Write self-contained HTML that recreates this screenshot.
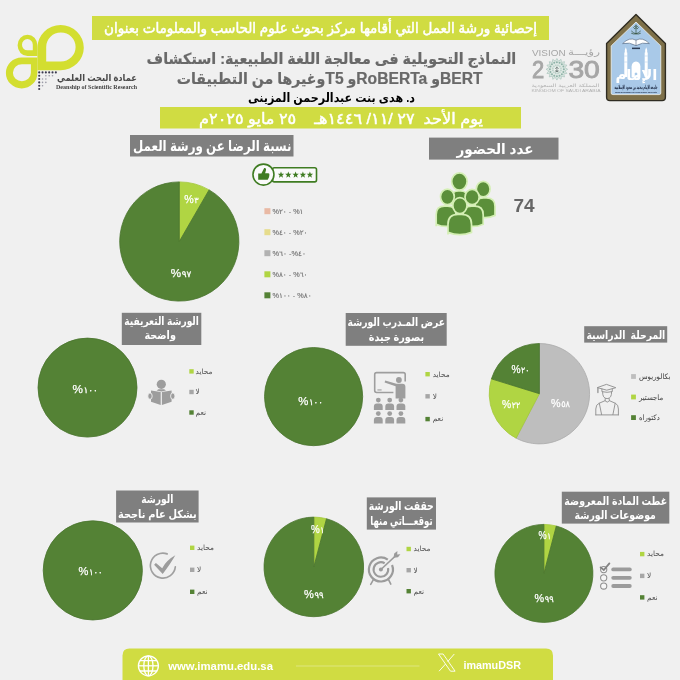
<!DOCTYPE html>
<html lang="ar">
<head>
<meta charset="utf-8">
<title>إحصائية ورشة العمل</title>
<style>
html,body{margin:0;padding:0;background:#f0f0f0;}
body{width:680px;height:680px;overflow:hidden;}
svg{display:block;}
text{white-space:pre;}
</style>
</head>
<body>
<svg width="680" height="680" viewBox="0 0 680 680">
<rect x="0" y="0" width="680" height="680" fill="#f0f0f0"/>
<rect x="92" y="16" width="457" height="24" fill="#d0dc42"/>
<text x="320.5" y="33" font-family="'Liberation Sans','DejaVu Sans',sans-serif" font-size="14.5" font-weight="normal" fill="#fff" text-anchor="middle" textLength="433" lengthAdjust="spacingAndGlyphs" direction="rtl"  stroke="#fff" stroke-width="0.5" stroke-linejoin="round">إحصائية ورشة العمل التي أقامها مركز بحوث علوم الحاسب والمعلومات بعنوان</text>
<text x="331.40000000000003" y="64.2" font-family="'Liberation Sans','DejaVu Sans',sans-serif" font-size="15.2" font-weight="bold" fill="#696969" text-anchor="middle" textLength="369.6" lengthAdjust="spacingAndGlyphs" direction="rtl" stroke="#696969" stroke-width="0.2">النماذج التحويلية فى معالجة اللغة الطبيعية: استكشاف</text>
<text x="329.70000000000005" y="83.6" font-family="'Liberation Sans','DejaVu Sans',sans-serif" font-size="15.2" font-weight="bold" fill="#696969" text-anchor="middle" textLength="305.8" lengthAdjust="spacingAndGlyphs" direction="rtl" stroke="#696969" stroke-width="0.2"><tspan font-size="16.8">BERT</tspan>و <tspan font-size="16.8">RoBERTa</tspan>و <tspan font-size="16.8">T5</tspan>وغيرها من التطبيقات</text>
<text x="331.5" y="102.4" font-family="'Liberation Sans','DejaVu Sans',sans-serif" font-size="12.5" font-weight="bold" fill="#000" text-anchor="middle" textLength="167" lengthAdjust="spacingAndGlyphs" direction="rtl" >د. هدى بنت عبدالرحمن المزينى</text>
<rect x="160" y="107" width="361" height="21.5" fill="#d0dc42"/>
<text x="341.0" y="123.5" font-family="'Liberation Sans','DejaVu Sans',sans-serif" font-size="15.5" font-weight="normal" fill="#fff" text-anchor="middle" textLength="284" lengthAdjust="spacingAndGlyphs" direction="rtl"  stroke="#fff" stroke-width="0.45" stroke-linejoin="round">يوم الأحد  ٢٧ /١١/ ١٤٤٦هـ    ٢٥ مايو ٢٠٢٥م</text>
<rect x="130" y="135" width="163.5" height="21.5" fill="#7f7f7f"/>
<text x="212.25" y="151.3" font-family="'Liberation Sans','DejaVu Sans',sans-serif" font-size="14.5" font-weight="bold" fill="#fff" text-anchor="middle" textLength="158.5" lengthAdjust="spacingAndGlyphs" direction="rtl" >نسبة الرضا عن ورشة العمل</text>
<rect x="429" y="137.6" width="129.5" height="22" fill="#7f7f7f"/>
<text x="495.0" y="153.8" font-family="'Liberation Sans','DejaVu Sans',sans-serif" font-size="14.5" font-weight="bold" fill="#fff" text-anchor="middle" textLength="77.0" lengthAdjust="spacingAndGlyphs" direction="rtl" >عدد الحضور</text>
<path d="M179.30,241.50 L179.30,181.90 A59.60,59.60 0 0 1 209.10,189.88 Z" fill="#b0d543" stroke="#a3c83b" stroke-width="0.8" stroke-linejoin="round"/>
<path d="M179.30,241.50 L209.10,189.88 A59.60,59.60 0 1 1 179.30,181.90 Z" fill="#548235" stroke="#4a752e" stroke-width="0.8" stroke-linejoin="round"/>
<text x="191.40" y="202.9" font-family="'Liberation Sans','DejaVu Sans',sans-serif" fill="#fff" stroke="#fff" stroke-width="0.25" text-anchor="middle" textLength="14.4" lengthAdjust="spacingAndGlyphs" direction="ltr" unicode-bidi="bidi-override"><tspan font-size="11.5">%</tspan><tspan font-size="8.8" dx="0.6" letter-spacing="0.8">٣</tspan></text>
<text x="181.10" y="276.6" font-family="'Liberation Sans','DejaVu Sans',sans-serif" fill="#fff" stroke="#fff" stroke-width="0.25" text-anchor="middle" textLength="20.6" lengthAdjust="spacingAndGlyphs" direction="ltr" unicode-bidi="bidi-override"><tspan font-size="11.5">%</tspan><tspan font-size="8.8" dx="0.6" letter-spacing="0.8">٩٧</tspan></text>
<rect x="264.4" y="208.2" width="6" height="6" fill="#e9b9a4"/>
<text x="288.0" y="213.6" font-family="'Liberation Sans','DejaVu Sans',sans-serif" font-size="7" font-weight="normal" fill="#757575" text-anchor="middle" textLength="31.0" lengthAdjust="spacingAndGlyphs" direction="ltr" unicode-bidi="bidi-override" stroke="#757575" stroke-width="0.15" stroke-linejoin="round">%٢٠ - %١</text>
<rect x="264.4" y="229.2" width="6" height="6" fill="#e6dc8c"/>
<text x="290.0" y="234.6" font-family="'Liberation Sans','DejaVu Sans',sans-serif" font-size="7" font-weight="normal" fill="#757575" text-anchor="middle" textLength="35.0" lengthAdjust="spacingAndGlyphs" direction="ltr" unicode-bidi="bidi-override" stroke="#757575" stroke-width="0.15" stroke-linejoin="round">%٤٠ - %٢٠</text>
<rect x="264.4" y="250.2" width="6" height="6" fill="#b2b2b2"/>
<text x="289.25" y="255.6" font-family="'Liberation Sans','DejaVu Sans',sans-serif" font-size="7" font-weight="normal" fill="#757575" text-anchor="middle" textLength="33.5" lengthAdjust="spacingAndGlyphs" direction="ltr" unicode-bidi="bidi-override" stroke="#757575" stroke-width="0.15" stroke-linejoin="round">%٦٠ -%٤٠</text>
<rect x="264.4" y="271.3" width="6" height="6" fill="#b0d543"/>
<text x="290.0" y="276.7" font-family="'Liberation Sans','DejaVu Sans',sans-serif" font-size="7" font-weight="normal" fill="#757575" text-anchor="middle" textLength="35.0" lengthAdjust="spacingAndGlyphs" direction="ltr" unicode-bidi="bidi-override" stroke="#757575" stroke-width="0.15" stroke-linejoin="round">%٨٠ - %٦٠</text>
<rect x="264.4" y="292.3" width="6" height="6" fill="#548235"/>
<text x="292.05" y="297.7" font-family="'Liberation Sans','DejaVu Sans',sans-serif" font-size="7" font-weight="normal" fill="#757575" text-anchor="middle" textLength="39.1" lengthAdjust="spacingAndGlyphs" direction="ltr" unicode-bidi="bidi-override" stroke="#757575" stroke-width="0.15" stroke-linejoin="round">%١٠٠ - %٨٠</text>
<rect x="272.5" y="167.7" width="44" height="14.2" rx="1.8" fill="#fafafa" stroke="#3f7c22" stroke-width="1.6"/>
<circle cx="263.45" cy="174.6" r="10.5" fill="#fafafa" stroke="#3f7c22" stroke-width="1.6"/>
<polygon points="281.00,171.50 281.85,173.73 284.23,173.85 282.38,175.35 283.00,177.65 281.00,176.35 279.00,177.65 279.62,175.35 277.77,173.85 280.15,173.73" fill="#3f7c22"/>
<polygon points="288.30,171.50 289.15,173.73 291.53,173.85 289.68,175.35 290.30,177.65 288.30,176.35 286.30,177.65 286.92,175.35 285.07,173.85 287.45,173.73" fill="#3f7c22"/>
<polygon points="295.60,171.50 296.45,173.73 298.83,173.85 296.98,175.35 297.60,177.65 295.60,176.35 293.60,177.65 294.22,175.35 292.37,173.85 294.75,173.73" fill="#3f7c22"/>
<polygon points="302.90,171.50 303.75,173.73 306.13,173.85 304.28,175.35 304.90,177.65 302.90,176.35 300.90,177.65 301.52,175.35 299.67,173.85 302.05,173.73" fill="#3f7c22"/>
<polygon points="309.90,171.50 310.75,173.73 313.13,173.85 311.28,175.35 311.90,177.65 309.90,176.35 307.90,177.65 308.52,175.35 306.67,173.85 309.05,173.73" fill="#3f7c22"/>
<path d="M258.2,173.4 H261.4 L264.2,168 C265.8,167.6 266.4,168.8 265.9,170.4 L265.1,173.2 H268.2 C269.5,173.2 269.8,174.4 269.1,175.1 C269.6,175.7 269.4,176.5 268.8,176.9 C269.1,177.5 268.8,178.2 268.2,178.5 C268.3,179.2 267.8,179.8 267,179.8 H258.2 Z" fill="#3f7c22"/>
<path d="M452,205 V197.3 Q452,191 458.3,191 H460.7 Q467,191 467,197.3 V203 Q459.5,207.5 452,203 Z" fill="#5b8f3a" stroke="#d4efb4" stroke-width="1.7"/>
<ellipse cx="459.4" cy="181.5" rx="7.7" ry="8.6" fill="#5b8f3a" stroke="#d4efb4" stroke-width="1.7"/>
<path d="M475,217.4 V206.4 Q475,198 483.4,198 H486.6 Q495,198 495,206.4 V215.4 Q485.0,219.9 475,215.4 Z" fill="#5b8f3a" stroke="#d4efb4" stroke-width="1.7"/>
<ellipse cx="483.2" cy="189.1" rx="6.9" ry="7.7" fill="#5b8f3a" stroke="#d4efb4" stroke-width="1.7"/>
<path d="M436.2,226.2 V214.516 Q436.2,206.2 444.516,206.2 H447.68399999999997 Q456,206.2 456,214.516 V224.2 Q446.1,228.7 436.2,224.2 Z" fill="#5b8f3a" stroke="#d4efb4" stroke-width="1.7"/>
<ellipse cx="447.4" cy="196.8" rx="6.9" ry="7.7" fill="#5b8f3a" stroke="#d4efb4" stroke-width="1.7"/>
<path d="M463,226.2 V214.68399999999997 Q463,206.2 471.484,206.2 H474.716 Q483.2,206.2 483.2,214.68399999999997 V224.2 Q473.1,228.7 463,224.2 Z" fill="#5b8f3a" stroke="#d4efb4" stroke-width="1.7"/>
<ellipse cx="472.1" cy="197" rx="7.1000000000000005" ry="7.7" fill="#5b8f3a" stroke="#d4efb4" stroke-width="1.7"/>
<path d="M448,234.4 V224.27 Q448,214.4 457.87,214.4 H461.63 Q471.5,214.4 471.5,224.27 V232.4 Q459.75,236.9 448,232.4 Z" fill="#5b8f3a" stroke="#d4efb4" stroke-width="1.7"/>
<ellipse cx="459.9" cy="205.6" rx="7.1000000000000005" ry="8.0" fill="#5b8f3a" stroke="#d4efb4" stroke-width="1.7"/>
<text x="524" y="211.8" font-family="'Liberation Sans','DejaVu Sans',sans-serif" font-size="19" font-weight="bold" fill="#666" text-anchor="middle" >74</text>
<circle cx="87.5" cy="387.6" r="49.5" fill="#548235" stroke="#4a752e" stroke-width="0.8"/>
<text x="85.15" y="392.6" font-family="'Liberation Sans','DejaVu Sans',sans-serif" fill="#fff" stroke="#fff" stroke-width="0.25" text-anchor="middle" textLength="25.5" lengthAdjust="spacingAndGlyphs" direction="ltr" unicode-bidi="bidi-override"><tspan font-size="11.5">%</tspan><tspan font-size="8.8" dx="0.6" letter-spacing="0.8">١٠٠</tspan></text>
<rect x="121.8" y="312.8" width="79.5" height="32.2" fill="#7f7f7f"/>
<text x="161.6" y="325.2" font-family="'Liberation Sans','DejaVu Sans',sans-serif" font-size="11.2" font-weight="bold" fill="#fff" text-anchor="middle" textLength="74.6" lengthAdjust="spacingAndGlyphs" direction="rtl" >الورشة التعريفية</text>
<text x="160.15" y="339.4" font-family="'Liberation Sans','DejaVu Sans',sans-serif" font-size="11.2" font-weight="bold" fill="#fff" text-anchor="middle" textLength="31.5" lengthAdjust="spacingAndGlyphs" direction="rtl" >واضحة</text>
<rect x="189.3" y="369.2" width="4.4" height="4.4" fill="#b0d543"/>
<text x="195.6" y="373.7" font-family="'Liberation Sans','DejaVu Sans',sans-serif" font-size="7.4" fill="#505050" direction="rtl" text-anchor="end">محايد</text>
<rect x="189.3" y="389.8" width="4.4" height="4.4" fill="#a6a6a6"/>
<text x="195.6" y="394.3" font-family="'Liberation Sans','DejaVu Sans',sans-serif" font-size="7.4" fill="#505050" direction="rtl" text-anchor="end">لا</text>
<rect x="189.3" y="410.3" width="4.4" height="4.4" fill="#548235"/>
<text x="195.6" y="414.8" font-family="'Liberation Sans','DejaVu Sans',sans-serif" font-size="7.4" fill="#505050" direction="rtl" text-anchor="end">نعم</text>
<circle cx="313.6" cy="396.6" r="49.1" fill="#548235" stroke="#4a752e" stroke-width="0.8"/>
<text x="310.55" y="404.7" font-family="'Liberation Sans','DejaVu Sans',sans-serif" fill="#fff" stroke="#fff" stroke-width="0.25" text-anchor="middle" textLength="24.7" lengthAdjust="spacingAndGlyphs" direction="ltr" unicode-bidi="bidi-override"><tspan font-size="11.5">%</tspan><tspan font-size="8.8" dx="0.6" letter-spacing="0.8">١٠٠</tspan></text>
<rect x="345.7" y="313" width="101" height="32.8" fill="#7f7f7f"/>
<text x="396.35" y="326" font-family="'Liberation Sans','DejaVu Sans',sans-serif" font-size="11.2" font-weight="bold" fill="#fff" text-anchor="middle" textLength="97.5" lengthAdjust="spacingAndGlyphs" direction="rtl" >عرض المـدرب الورشة</text>
<text x="396.4" y="340.6" font-family="'Liberation Sans','DejaVu Sans',sans-serif" font-size="11.2" font-weight="bold" fill="#fff" text-anchor="middle" textLength="55.4" lengthAdjust="spacingAndGlyphs" direction="rtl" >بصورة جيدة</text>
<rect x="425.4" y="372.0" width="4.4" height="4.4" fill="#b0d543"/>
<text x="432.7" y="376.5" font-family="'Liberation Sans','DejaVu Sans',sans-serif" font-size="7.4" fill="#505050" direction="rtl" text-anchor="end">محايد</text>
<rect x="425.4" y="394.1" width="4.4" height="4.4" fill="#a6a6a6"/>
<text x="432.7" y="398.6" font-family="'Liberation Sans','DejaVu Sans',sans-serif" font-size="7.4" fill="#505050" direction="rtl" text-anchor="end">لا</text>
<rect x="425.4" y="416.90000000000003" width="4.4" height="4.4" fill="#548235"/>
<text x="432.7" y="421.40000000000003" font-family="'Liberation Sans','DejaVu Sans',sans-serif" font-size="7.4" fill="#505050" direction="rtl" text-anchor="end">نعم</text>
<path d="M539.40,393.70 L539.40,343.50 A50.20,50.20 0 1 1 516.14,438.19 Z" fill="#bebebe" stroke="#ababab" stroke-width="0.8" stroke-linejoin="round"/>
<path d="M539.40,393.70 L516.14,438.19 A50.20,50.20 0 0 1 491.45,378.86 Z" fill="#b0d543" stroke="#a3c83b" stroke-width="0.8" stroke-linejoin="round"/>
<path d="M539.40,393.70 L491.45,378.86 A50.20,50.20 0 0 1 539.40,343.50 Z" fill="#548235" stroke="#4a752e" stroke-width="0.8" stroke-linejoin="round"/>
<text x="560.50" y="406.5" font-family="'Liberation Sans','DejaVu Sans',sans-serif" fill="#fff" stroke="#fff" stroke-width="0.25" text-anchor="middle" textLength="19.0" lengthAdjust="spacingAndGlyphs" direction="ltr" unicode-bidi="bidi-override"><tspan font-size="11.5">%</tspan><tspan font-size="8.8" dx="0.6" letter-spacing="0.8">٥٨</tspan></text>
<text x="511.10" y="408.2" font-family="'Liberation Sans','DejaVu Sans',sans-serif" fill="#fff" stroke="#fff" stroke-width="0.25" text-anchor="middle" textLength="18.2" lengthAdjust="spacingAndGlyphs" direction="ltr" unicode-bidi="bidi-override"><tspan font-size="11.5">%</tspan><tspan font-size="8.8" dx="0.6" letter-spacing="0.8">٢٢</tspan></text>
<text x="520.40" y="373" font-family="'Liberation Sans','DejaVu Sans',sans-serif" fill="#fff" stroke="#fff" stroke-width="0.25" text-anchor="middle" textLength="18.0" lengthAdjust="spacingAndGlyphs" direction="ltr" unicode-bidi="bidi-override"><tspan font-size="11.5">%</tspan><tspan font-size="8.8" dx="0.6" letter-spacing="0.8">٢٠</tspan></text>
<rect x="584.2" y="326.2" width="83" height="16.4" fill="#7f7f7f"/>
<text x="625.9" y="338.8" font-family="'Liberation Sans','DejaVu Sans',sans-serif" font-size="11.2" font-weight="bold" fill="#fff" text-anchor="middle" textLength="78.8" lengthAdjust="spacingAndGlyphs" direction="rtl" >المرحلة  الدراسية</text>
<rect x="631.1" y="374.1" width="4.8" height="4.8" fill="#bebebe"/>
<text x="654.7" y="379.1" font-family="'Liberation Sans','DejaVu Sans',sans-serif" font-size="7.5" font-weight="normal" fill="#404040" text-anchor="middle" textLength="31.6" lengthAdjust="spacingAndGlyphs" direction="rtl" >بكالوريوس</text>
<rect x="631.1" y="394.6" width="4.8" height="4.8" fill="#b0d543"/>
<text x="651.05" y="399.6" font-family="'Liberation Sans','DejaVu Sans',sans-serif" font-size="7.5" font-weight="normal" fill="#404040" text-anchor="middle" textLength="24.3" lengthAdjust="spacingAndGlyphs" direction="rtl" >ماجستير</text>
<rect x="631.1" y="415.20000000000005" width="4.8" height="4.8" fill="#548235"/>
<text x="649.3" y="420.20000000000005" font-family="'Liberation Sans','DejaVu Sans',sans-serif" font-size="7.5" font-weight="normal" fill="#404040" text-anchor="middle" textLength="20.8" lengthAdjust="spacingAndGlyphs" direction="rtl" >دكتوراه</text>
<circle cx="92.8" cy="570.4" r="49.6" fill="#548235" stroke="#4a752e" stroke-width="0.8"/>
<text x="90.60" y="575" font-family="'Liberation Sans','DejaVu Sans',sans-serif" fill="#fff" stroke="#fff" stroke-width="0.25" text-anchor="middle" textLength="24.2" lengthAdjust="spacingAndGlyphs" direction="ltr" unicode-bidi="bidi-override"><tspan font-size="11.5">%</tspan><tspan font-size="8.8" dx="0.6" letter-spacing="0.8">١٠٠</tspan></text>
<rect x="116.1" y="490.5" width="82.5" height="32" fill="#7f7f7f"/>
<text x="157.35000000000002" y="503" font-family="'Liberation Sans','DejaVu Sans',sans-serif" font-size="11.2" font-weight="bold" fill="#fff" text-anchor="middle" textLength="32.1" lengthAdjust="spacingAndGlyphs" direction="rtl" >الورشة</text>
<text x="157.35" y="517.6" font-family="'Liberation Sans','DejaVu Sans',sans-serif" font-size="11.2" font-weight="bold" fill="#fff" text-anchor="middle" textLength="78.7" lengthAdjust="spacingAndGlyphs" direction="rtl" >بشكل عام ناجحة</text>
<rect x="190" y="545.5999999999999" width="4.4" height="4.4" fill="#b0d543"/>
<text x="197.1" y="550.0999999999999" font-family="'Liberation Sans','DejaVu Sans',sans-serif" font-size="7.4" fill="#505050" direction="rtl" text-anchor="end">محايد</text>
<rect x="190" y="567.5999999999999" width="4.4" height="4.4" fill="#a6a6a6"/>
<text x="197.1" y="572.0999999999999" font-family="'Liberation Sans','DejaVu Sans',sans-serif" font-size="7.4" fill="#505050" direction="rtl" text-anchor="end">لا</text>
<rect x="190" y="589.5999999999999" width="4.4" height="4.4" fill="#548235"/>
<text x="197.1" y="594.0999999999999" font-family="'Liberation Sans','DejaVu Sans',sans-serif" font-size="7.4" fill="#505050" direction="rtl" text-anchor="end">نعم</text>
<path d="M313.80,566.90 L313.80,517.10 A49.80,49.80 0 0 1 326.52,518.75 Z" fill="#b0d543" stroke="#a3c83b" stroke-width="0.8" stroke-linejoin="round"/>
<path d="M313.80,566.90 L326.52,518.75 A49.80,49.80 0 1 1 313.80,517.10 Z" fill="#548235" stroke="#4a752e" stroke-width="0.8" stroke-linejoin="round"/>
<text x="317.75" y="532.7" font-family="'Liberation Sans','DejaVu Sans',sans-serif" fill="#fff" stroke="#fff" stroke-width="0.25" text-anchor="middle" textLength="13.3" lengthAdjust="spacingAndGlyphs" direction="ltr" unicode-bidi="bidi-override"><tspan font-size="11.5">%</tspan><tspan font-size="8.8" dx="0.6" letter-spacing="0.8">١</tspan></text>
<text x="313.75" y="597.6" font-family="'Liberation Sans','DejaVu Sans',sans-serif" fill="#fff" stroke="#fff" stroke-width="0.25" text-anchor="middle" textLength="19.5" lengthAdjust="spacingAndGlyphs" direction="ltr" unicode-bidi="bidi-override"><tspan font-size="11.5">%</tspan><tspan font-size="8.8" dx="0.6" letter-spacing="0.8">٩٩</tspan></text>
<rect x="366.8" y="497.4" width="69.2" height="32.2" fill="#7f7f7f"/>
<text x="401.3" y="510.2" font-family="'Liberation Sans','DejaVu Sans',sans-serif" font-size="12.4" font-weight="bold" fill="#fff" text-anchor="middle" textLength="65.0" lengthAdjust="spacingAndGlyphs" direction="rtl" >حققت الورشة</text>
<text x="401.4" y="524.8" font-family="'Liberation Sans','DejaVu Sans',sans-serif" font-size="12.4" font-weight="bold" fill="#fff" text-anchor="middle" textLength="62.4" lengthAdjust="spacingAndGlyphs" direction="rtl" >توقعـــاتي منها</text>
<rect x="406.5" y="546.8" width="4.4" height="4.4" fill="#b0d543"/>
<text x="413.5" y="551.3" font-family="'Liberation Sans','DejaVu Sans',sans-serif" font-size="7.4" fill="#505050" direction="rtl" text-anchor="end">محايد</text>
<rect x="406.5" y="568.0" width="4.4" height="4.4" fill="#a6a6a6"/>
<text x="413.5" y="572.5" font-family="'Liberation Sans','DejaVu Sans',sans-serif" font-size="7.4" fill="#505050" direction="rtl" text-anchor="end">لا</text>
<rect x="406.5" y="589.0" width="4.4" height="4.4" fill="#548235"/>
<text x="413.5" y="593.5" font-family="'Liberation Sans','DejaVu Sans',sans-serif" font-size="7.4" fill="#505050" direction="rtl" text-anchor="end">نعم</text>
<path d="M543.90,573.40 L543.90,524.40 A49.00,49.00 0 0 1 556.33,526.00 Z" fill="#b0d543" stroke="#a3c83b" stroke-width="0.8" stroke-linejoin="round"/>
<path d="M543.90,573.40 L556.33,526.00 A49.00,49.00 0 1 1 543.90,524.40 Z" fill="#548235" stroke="#4a752e" stroke-width="0.8" stroke-linejoin="round"/>
<text x="544.80" y="538.6" font-family="'Liberation Sans','DejaVu Sans',sans-serif" fill="#fff" stroke="#fff" stroke-width="0.25" text-anchor="middle" textLength="12.4" lengthAdjust="spacingAndGlyphs" direction="ltr" unicode-bidi="bidi-override"><tspan font-size="11.5">%</tspan><tspan font-size="8.8" dx="0.6" letter-spacing="0.8">١</tspan></text>
<text x="544.05" y="601.8" font-family="'Liberation Sans','DejaVu Sans',sans-serif" fill="#fff" stroke="#fff" stroke-width="0.25" text-anchor="middle" textLength="19.1" lengthAdjust="spacingAndGlyphs" direction="ltr" unicode-bidi="bidi-override"><tspan font-size="11.5">%</tspan><tspan font-size="8.8" dx="0.6" letter-spacing="0.8">٩٩</tspan></text>
<rect x="561.8" y="491.7" width="107.5" height="31.9" fill="#7f7f7f"/>
<text x="615.75" y="504.5" font-family="'Liberation Sans','DejaVu Sans',sans-serif" font-size="11.2" font-weight="bold" fill="#fff" text-anchor="middle" textLength="102.9" lengthAdjust="spacingAndGlyphs" direction="rtl" >غطت المادة المعروضة</text>
<text x="615.25" y="518.5" font-family="'Liberation Sans','DejaVu Sans',sans-serif" font-size="11.2" font-weight="bold" fill="#fff" text-anchor="middle" textLength="81.3" lengthAdjust="spacingAndGlyphs" direction="rtl" >موضوعات الورشة</text>
<rect x="640" y="551.9" width="4.4" height="4.4" fill="#b0d543"/>
<text x="647" y="556.4" font-family="'Liberation Sans','DejaVu Sans',sans-serif" font-size="7.4" fill="#505050" direction="rtl" text-anchor="end">محايد</text>
<rect x="640" y="573.6999999999999" width="4.4" height="4.4" fill="#a6a6a6"/>
<text x="647" y="578.1999999999999" font-family="'Liberation Sans','DejaVu Sans',sans-serif" font-size="7.4" fill="#505050" direction="rtl" text-anchor="end">لا</text>
<rect x="640" y="595.1999999999999" width="4.4" height="4.4" fill="#548235"/>
<text x="647" y="599.6999999999999" font-family="'Liberation Sans','DejaVu Sans',sans-serif" font-size="7.4" fill="#505050" direction="rtl" text-anchor="end">نعم</text>
<path d="M122.5,680 V655.5 Q122.5,648.5 129.5,648.5 H546 Q553,648.5 553,655.5 V680 Z" fill="#d0dc42"/>
<text x="168.2" y="670.3" font-family="'Liberation Sans','DejaVu Sans',sans-serif" font-size="11" font-weight="bold" fill="#fff" text-anchor="start" textLength="104.8" lengthAdjust="spacingAndGlyphs" >www.imamu.edu.sa</text>
<text x="463.4" y="668.7" font-family="'Liberation Sans','DejaVu Sans',sans-serif" font-size="11" font-weight="bold" fill="#fff" text-anchor="start" textLength="57.6" lengthAdjust="spacingAndGlyphs" >imamuDSR</text>
<line x1="296" y1="666" x2="419.5" y2="666" stroke="#fff" stroke-opacity="0.55" stroke-width="0.6"/>
<g fill="none" stroke="#fff" stroke-width="1.3"><circle cx="148.4" cy="665.8" r="10"/><ellipse cx="148.4" cy="665.8" rx="4.6" ry="10"/><line x1="148.4" y1="655.8" x2="148.4" y2="675.8"/><line x1="138.4" y1="665.8" x2="158.4" y2="665.8"/><path d="M140,660.6 H156.8 M140,671 H156.8"/></g>
<g fill="none" stroke="#fff" stroke-width="0.9"><path d="M438.5,654 h4.6 l12,17.2 h-4.6 z"/><path d="M454.3,654 l-6.6,7.6 M445.6,664 l-6.6,7.2"/></g>
<path fill="#d3de30" fill-rule="evenodd" d="M37.40,70.20 V47.65 A23.20,22.55 0 1 1 60.60,70.20 Z M46.20,61.40 V47.00 A14.70,14.40 0 1 1 60.90,61.40 Z"/>
<path fill="#d3de30" fill-rule="evenodd" d="M37.40,57.40 V72.90 A15.75,15.50 0 1 1 21.65,57.40 Z M30.90,64.20 V72.70 A9.00,8.50 0 1 1 21.90,64.20 Z"/>
<path fill="#d3de30" fill-rule="evenodd" d="M37.40,56.00 H27.50 A9.90,10.65 0 1 1 37.40,45.35 Z M32.80,50.30 H27.40 A5.40,5.60 0 1 1 32.80,44.70 Z"/>
<circle cx="39.20" cy="72.4" r="1.05" fill="#3a3a4e"/>
<circle cx="42.53" cy="72.4" r="1.05" fill="#3a3a4e"/>
<circle cx="45.86" cy="72.4" r="1.05" fill="#3a3a4e"/>
<circle cx="49.19" cy="72.4" r="1.05" fill="#3a3a4e"/>
<circle cx="52.52" cy="72.4" r="1.05" fill="#3a3a4e"/>
<circle cx="55.85" cy="72.4" r="1.05" fill="#3a3a4e"/>
<circle cx="39.2" cy="75.73" r="1.05" fill="#3a3a4e"/>
<circle cx="39.2" cy="79.06" r="1.05" fill="#3a3a4e"/>
<circle cx="39.2" cy="82.39" r="1.05" fill="#3a3a4e"/>
<circle cx="39.2" cy="85.72" r="1.05" fill="#3a3a4e"/>
<circle cx="39.2" cy="89.05" r="1.05" fill="#3a3a4e"/>
<circle cx="45.86" cy="75.73" r="0.8" fill="#9a9aa6"/>
<circle cx="49.19" cy="75.73" r="0.8" fill="#9a9aa6"/>
<circle cx="52.52" cy="75.73" r="0.8" fill="#9a9aa6"/>
<circle cx="42.53" cy="79.06" r="0.8" fill="#9a9aa6"/>
<circle cx="45.86" cy="79.06" r="0.8" fill="#9a9aa6"/>
<circle cx="42.53" cy="82.39" r="0.8" fill="#9a9aa6"/>
<circle cx="45.86" cy="82.39" r="0.8" fill="#9a9aa6"/>
<circle cx="42.53" cy="85.72" r="0.8" fill="#9a9aa6"/>
<text x="97" y="81" font-family="'Liberation Serif','DejaVu Serif','DejaVu Sans',serif" font-size="9.5" font-weight="bold" fill="#4a4a4a" text-anchor="middle" direction="rtl" textLength="80" lengthAdjust="spacingAndGlyphs">عمادة البحث العلمي</text>
<text x="56" y="88.6" font-family="'Liberation Serif','DejaVu Serif','DejaVu Sans',serif" font-size="5.2" font-weight="bold" fill="#444" textLength="81" lengthAdjust="spacingAndGlyphs">Deanship of Scientific Research</text>
<text x="531.9" y="55.6" font-family="'Liberation Sans','DejaVu Sans',sans-serif" font-size="8.6" fill="#a6a6a6" textLength="33.7" lengthAdjust="spacingAndGlyphs">VISION</text>
<text x="584" y="55.2" font-family="'Liberation Sans','DejaVu Sans',sans-serif" font-size="9" fill="#a6a6a6" text-anchor="middle" direction="rtl" textLength="32" lengthAdjust="spacingAndGlyphs">رؤيـــة</text>
<text x="532" y="77.5" font-family="'Liberation Sans','DejaVu Sans',sans-serif" font-size="23.6" stroke="#a6a6a6" stroke-width="0.9" fill="#a6a6a6" textLength="12.2" lengthAdjust="spacingAndGlyphs">2</text>
<text x="568.4" y="77.5" font-family="'Liberation Sans','DejaVu Sans',sans-serif" font-size="23.6" stroke="#a6a6a6" stroke-width="0.9" fill="#a6a6a6" textLength="31.4" lengthAdjust="spacingAndGlyphs">30</text>
<polygon points="556.90,58.50 558.50,61.26 561.03,59.32 561.46,62.48 564.54,61.66 563.72,64.74 566.88,65.17 564.94,67.70 567.70,69.30 564.94,70.90 566.88,73.43 563.72,73.86 564.54,76.94 561.46,76.12 561.03,79.28 558.50,77.34 556.90,80.10 555.30,77.34 552.77,79.28 552.34,76.12 549.26,76.94 550.08,73.86 546.92,73.43 548.86,70.90 546.10,69.30 548.86,67.70 546.92,65.17 550.08,64.74 549.26,61.66 552.34,62.48 552.77,59.32 555.30,61.26" fill="#dfe9e4" stroke="#a9c4bb" stroke-width="0.7"/>
<circle cx="556.90" cy="62.30" r="1.0" fill="#8fb3a8"/>
<circle cx="559.58" cy="62.83" r="1.0" fill="#8fb3a8"/>
<circle cx="561.85" cy="64.35" r="1.0" fill="#8fb3a8"/>
<circle cx="563.37" cy="66.62" r="1.0" fill="#8fb3a8"/>
<circle cx="563.90" cy="69.30" r="1.0" fill="#8fb3a8"/>
<circle cx="563.37" cy="71.98" r="1.0" fill="#8fb3a8"/>
<circle cx="561.85" cy="74.25" r="1.0" fill="#8fb3a8"/>
<circle cx="559.58" cy="75.77" r="1.0" fill="#8fb3a8"/>
<circle cx="556.90" cy="76.30" r="1.0" fill="#8fb3a8"/>
<circle cx="554.22" cy="75.77" r="1.0" fill="#8fb3a8"/>
<circle cx="551.95" cy="74.25" r="1.0" fill="#8fb3a8"/>
<circle cx="550.43" cy="71.98" r="1.0" fill="#8fb3a8"/>
<circle cx="549.90" cy="69.30" r="1.0" fill="#8fb3a8"/>
<circle cx="550.43" cy="66.62" r="1.0" fill="#8fb3a8"/>
<circle cx="551.95" cy="64.35" r="1.0" fill="#8fb3a8"/>
<circle cx="554.22" cy="62.83" r="1.0" fill="#8fb3a8"/>
<circle cx="557.99" cy="65.24" r="0.8" fill="#b5cdc5"/>
<circle cx="559.87" cy="66.33" r="0.8" fill="#b5cdc5"/>
<circle cx="560.96" cy="68.21" r="0.8" fill="#b5cdc5"/>
<circle cx="560.96" cy="70.39" r="0.8" fill="#b5cdc5"/>
<circle cx="559.87" cy="72.27" r="0.8" fill="#b5cdc5"/>
<circle cx="557.99" cy="73.36" r="0.8" fill="#b5cdc5"/>
<circle cx="555.81" cy="73.36" r="0.8" fill="#b5cdc5"/>
<circle cx="553.93" cy="72.27" r="0.8" fill="#b5cdc5"/>
<circle cx="552.84" cy="70.39" r="0.8" fill="#b5cdc5"/>
<circle cx="552.84" cy="68.21" r="0.8" fill="#b5cdc5"/>
<circle cx="553.93" cy="66.33" r="0.8" fill="#b5cdc5"/>
<circle cx="555.81" cy="65.24" r="0.8" fill="#b5cdc5"/>
<circle cx="556.9" cy="69.3" r="2.6" fill="#eef3f0"/>
<path d="M556.9,66.7 v5 M555.1,68.7 q1.8,-2.6 3.6,0 M555.3,71.89999999999999 l3.2,-1.4 M558.5,71.89999999999999 l-3.2,-1.4" stroke="#4a5a55" stroke-width="0.6" fill="none"/>
<text x="565.5" y="86.6" font-family="'Liberation Sans','DejaVu Sans',sans-serif" font-size="4.6" fill="#b0b0b0" text-anchor="middle" direction="rtl" textLength="68" lengthAdjust="spacingAndGlyphs">المملكة العربية السعودية</text>
<text x="531.5" y="92.4" font-family="'Liberation Sans','DejaVu Sans',sans-serif" font-size="4.4" fill="#b0b0b0" textLength="69" lengthAdjust="spacingAndGlyphs">KINGDOM OF SAUDI ARABIA</text>
<path d="M636,14.6 L665.4,43.4 V97.3 Q665.4,100.6 662.1,100.6 H609.9 Q606.6,100.6 606.6,97.3 V43.4 Z" fill="#7e7049" stroke="#2f2c22" stroke-width="1.4" stroke-linejoin="round"/>
<path d="M636,22 L660.8,45.9 V93 Q660.8,94.6 659.2,94.6 H612.8 Q611.2,94.6 611.2,93 V45.9 Z" fill="#a9c9e8" stroke="#f4f4ee" stroke-width="0.8" stroke-linejoin="round"/>
<g stroke="#2f4a33" fill="none" stroke-width="0.7" stroke-linecap="round"><path d="M636,25 v8.6"/><path d="M633.6,27.4 q2.4,-3.4 4.8,0 M634.2,28.6 q1.8,-2.2 3.6,0"/><path d="M631.6,31.2 q4.4,4.4 8.8,2.2 M640.4,31.2 q-4.4,4.4 -8.8,2.2"/></g>
<path d="M636,40.2 Q629.5,36.6 622.6,43.6 Q629.5,41.8 636,45.6 Q642.5,41.8 649.4,43.6 Q642.5,36.6 636,40.2 Z" fill="#fff" stroke="#4d5f78" stroke-width="0.6" stroke-linejoin="round"/>
<path d="M636,40.2 V45.6" stroke="#4d5f78" stroke-width="0.6"/>
<rect x="632" y="47.6" width="8" height="1.5" fill="#2f3e55"/>
<path d="M624.3,77 V52.5 H624.8 V50 L625.8,47.2 L626.8,50 V52.5 H627.3 V77 Z" fill="#fff"/>
<path d="M624.3,56 h3 M624.3,62 h3" stroke="#a9c9e8" stroke-width="0.5"/>
<path d="M644.7,77 V52.5 H645.2 V50 L646.2,47.2 L647.2,50 V52.5 H647.7 V77 Z" fill="#fff"/>
<path d="M644.7,56 h3 M644.7,62 h3" stroke="#a9c9e8" stroke-width="0.5"/>
<path d="M631.6,77.5 V66.5 Q631.8,61.6 636,61.4 Q640.2,61.6 640.4,66.5 V77.5 Z" fill="#fff"/>
<path d="M634.8,77.5 V73.4 Q636,71.6 637.2,73.4 V77.5 Z" fill="#a9c9e8"/>
<text x="636.4" y="80.4" font-family="'Liberation Sans','DejaVu Sans',sans-serif" font-size="15" font-weight="bold" fill="#fff" text-anchor="middle" direction="rtl" textLength="42" lengthAdjust="spacingAndGlyphs">الإمام</text>
<text x="636" y="89.4" font-family="'Liberation Serif','DejaVu Serif','DejaVu Sans',serif" font-size="5.6" font-weight="bold" fill="#22304a" text-anchor="middle" direction="rtl" textLength="43" lengthAdjust="spacingAndGlyphs">جامعة الإمام محمد بن سعود الإسلامية</text>
<text x="636" y="93.1" font-family="'Liberation Sans','DejaVu Sans',sans-serif" font-size="2.1" font-weight="bold" fill="#22304a" text-anchor="middle" textLength="42" lengthAdjust="spacingAndGlyphs">Imam Mohammad Ibn Saud Islamic University</text>
<g fill="#9d9d9d">
<circle cx="161.3" cy="384.3" r="4.6"/>
<path d="M158.4,389.2 H164.2 L166,390.6 L161.3,391.6 L156.6,390.6 Z"/>
<path d="M160.7,392.1 L151,390.5 V401.8 L160.7,404.9 Z M161.9,392.1 L171.6,390.5 V401.8 L161.9,404.9 Z"/>
<ellipse cx="150" cy="396.1" rx="2.2" ry="3.2" stroke="#f0f0f0" stroke-width="0.9"/><ellipse cx="172.8" cy="396.1" rx="2.2" ry="3.2" stroke="#f0f0f0" stroke-width="0.9"/>
</g>
<g fill="#9e9e9e">
<path d="M405.2,381.4 V374.5 Q405.2,372.6 403.3,372.6 H376.6 Q374.7,372.6 374.7,374.5 V390.6 Q374.7,392.5 376.6,392.5 H393.4" fill="none" stroke="#9e9e9e" stroke-width="1.6"/>
<rect x="377.4" y="389.4" width="4.2" height="1.1"/>
<circle cx="398.9" cy="380" r="2.9"/>
<path d="M395.6,398.6 V386.2 L384.6,382.4 L385.2,380.6 L396.4,383.8 H402.4 Q405.4,383.8 405.4,386.8 V398.6 Z"/>
<circle cx="378.3" cy="400.1" r="2.4"/>
<path d="M373.90000000000003,410.1 V406.5 Q373.90000000000003,403.5 376.90000000000003,403.5 H379.7 Q382.7,403.5 382.7,406.5 V410.1 Z"/>
<circle cx="389.7" cy="400.1" r="2.4"/>
<path d="M385.3,410.1 V406.5 Q385.3,403.5 388.3,403.5 H391.09999999999997 Q394.09999999999997,403.5 394.09999999999997,406.5 V410.1 Z"/>
<circle cx="400.9" cy="400.1" r="2.4"/>
<path d="M396.5,410.1 V406.5 Q396.5,403.5 399.5,403.5 H402.29999999999995 Q405.29999999999995,403.5 405.29999999999995,406.5 V410.1 Z"/>
<circle cx="378.3" cy="413.6" r="2.4"/>
<path d="M373.90000000000003,423.6 V420.0 Q373.90000000000003,417.0 376.90000000000003,417.0 H379.7 Q382.7,417.0 382.7,420.0 V423.6 Z"/>
<circle cx="389.7" cy="413.6" r="2.4"/>
<path d="M385.3,423.6 V420.0 Q385.3,417.0 388.3,417.0 H391.09999999999997 Q394.09999999999997,417.0 394.09999999999997,420.0 V423.6 Z"/>
<circle cx="400.9" cy="413.6" r="2.4"/>
<path d="M396.5,423.6 V420.0 Q396.5,417.0 399.5,417.0 H402.29999999999995 Q405.29999999999995,417.0 405.29999999999995,420.0 V423.6 Z"/>
</g>
<g fill="none" stroke="#929292" stroke-width="0.95" stroke-linejoin="round" stroke-linecap="round">
<path d="M606.8,384.5 L615.8,387.7 L606.8,390.2 L597.7,387.7 Z"/>
<path d="M597.9,388 V392.6" stroke-width="1.3"/>
<path d="M601.9,389 V391.6 Q607,393 612.3,391.6 V389"/>
<path d="M602.6,391.8 Q602.4,398.6 607.1,398.6 Q611.8,398.6 611.6,391.8"/>
<path d="M605.3,398.5 L605,400.7 Q607.2,403.6 609.5,400.7 L609,398.5"/>
<path d="M595.8,414.9 V409 Q595.8,404.4 599.3,403.2 L605,400.7 M609.5,400.7 L615.2,403.2 Q618.4,404.4 618.4,409 V414.9"/>
<path d="M595.8,414.9 H618.4"/>
<path d="M599.3,403.2 L601.6,414.6 M615.2,403.2 L612.9,414.6"/>
</g>
<path d="M175.33,566.91 A12.5,12.5 0 1 1 167.18,553.85" fill="none" stroke="#a0a0a0" stroke-width="1.65" stroke-linecap="round"/>
<path d="M154.1,564.7 L155.9,563.1 L162.2,568.2 Q166.4,560.2 175.3,555.3 Q171,563.2 162.7,574 Z" fill="#9c9c9c"/>
<g fill="none" stroke="#9b9b9b">
<path d="M392.03,565.00 A12,12 0 1 1 387.78,559.67" stroke-width="2.2"/>
<path d="M388.04,567.98 A7.3,7.3 0 1 1 384.66,563.24" stroke-width="2.1"/>
<path d="M373.7,579.2 L370.7,584.3 M388.4,579.4 L390.8,584.1" stroke-width="1.6" stroke-linecap="round"/>
<path d="M380.9,569.5 L395.4,556" stroke-width="1.7"/>
</g>
<circle cx="380.9" cy="569.5" r="2" fill="#9b9b9b"/>
<path d="M393.6,557.8 L394.2,553.4 L397.4,551 L397.2,554.4 L400.4,554.2 L398,557.2 Z" fill="#9b9b9b"/>
<g fill="#f6f6f6" stroke="#8e8e8e" stroke-width="1.05">
<circle cx="603.7" cy="569.6" r="3.1"/>
<circle cx="603.7" cy="577.8" r="3.1"/>
<circle cx="603.7" cy="586" r="3.1"/>
</g>
<rect x="611.3" y="567.5" width="20.4" height="3.8" rx="1.9" fill="#9b9b9b"/>
<rect x="611.3" y="575.9" width="20.4" height="3.8" rx="1.9" fill="#9b9b9b"/>
<rect x="611.3" y="584.1" width="20.4" height="3.8" rx="1.9" fill="#9b9b9b"/>
<path d="M600.6,567.4 L603.8,570 L609.4,563.4" fill="none" stroke="#828282" stroke-width="1.8" stroke-linecap="round"/>
</svg>
</body>
</html>
